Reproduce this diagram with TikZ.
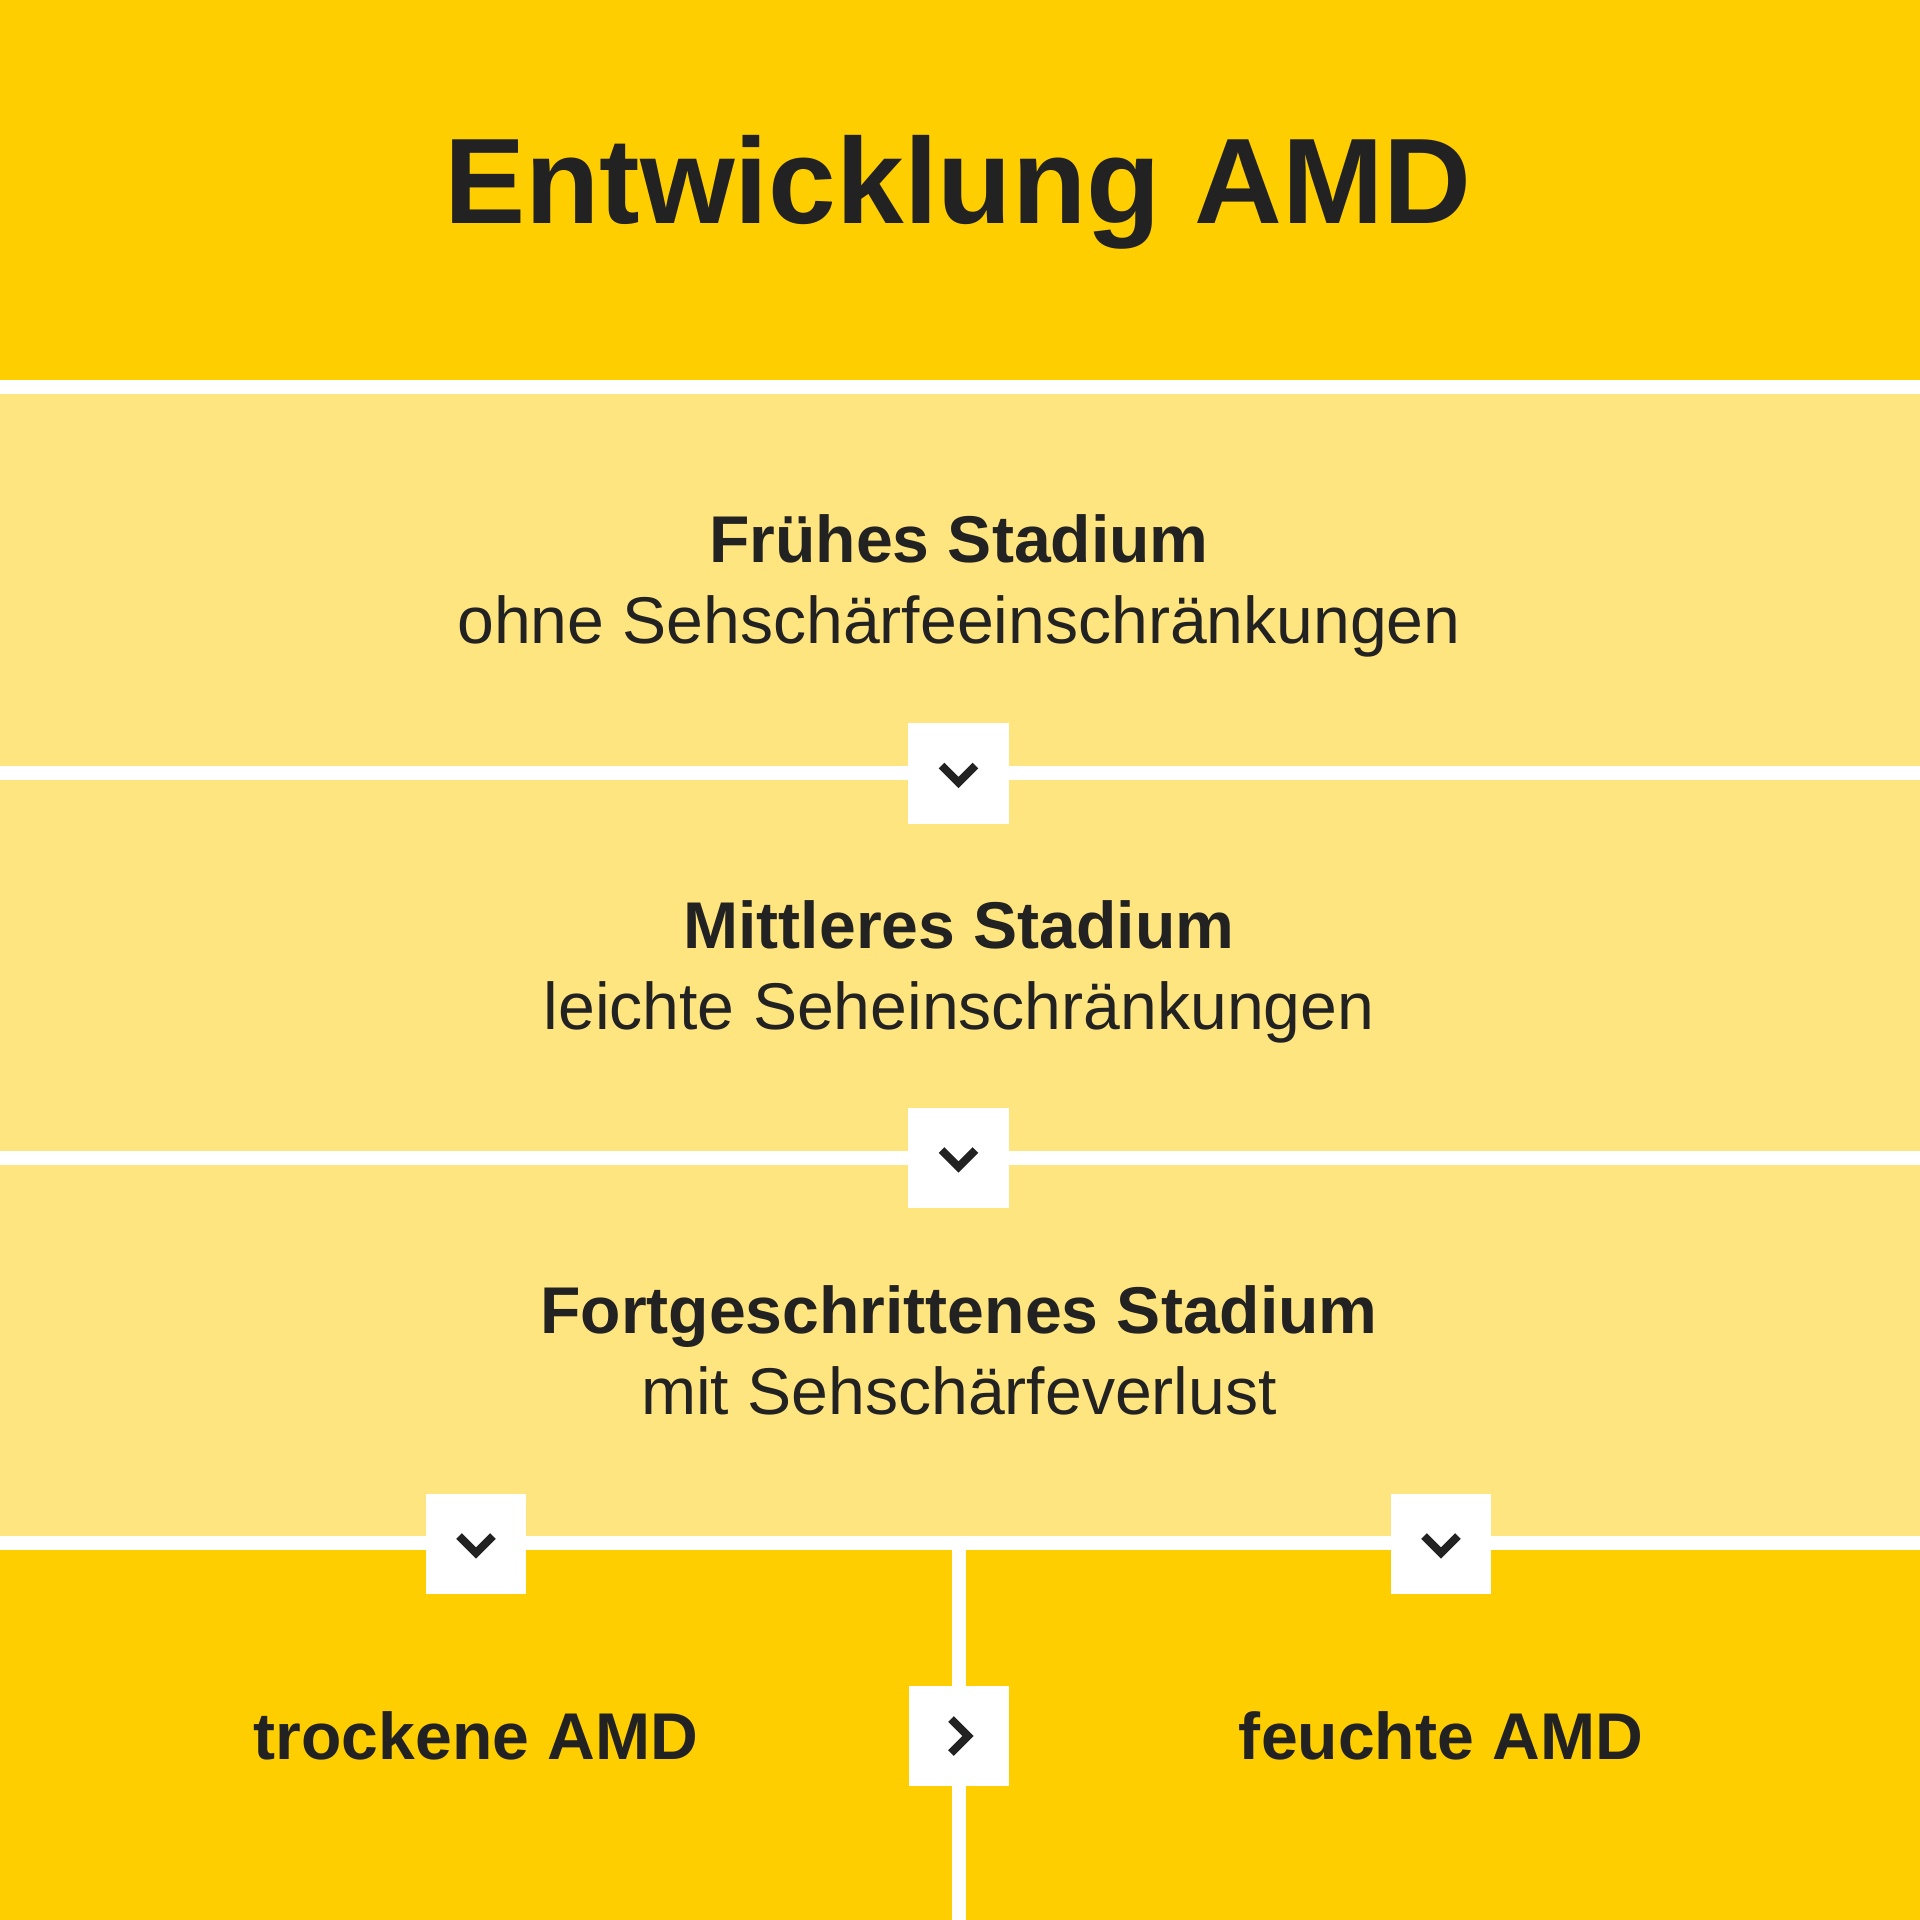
\documentclass[tikz,border=0pt]{standalone}
\usepackage{fontspec}
\setmainfont{Liberation Sans}

\definecolor{amdgelb}{HTML}{FFCE00}
\definecolor{amdhell}{HTML}{FFE57F}
\definecolor{amdtext}{HTML}{222222}

\tikzset{
    titel/.style={font=\fontsize{34.6}{40}\selectfont\bfseries, text=amdtext, anchor=base, inner sep=0},
    stufe/.style={font=\fontsize{18.8}{22}\selectfont\bfseries, text=amdtext, anchor=base, inner sep=0},
    unterzeile/.style={font=\fontsize{18.8}{22}\selectfont, text=amdtext, anchor=base, inner sep=0},
    kasten/.style={fill=white, minimum size=1cm, inner sep=0},
    pfeil/.style={draw=amdtext, line width=0.08cm, line join=miter}
}

\begin{document}
\begin{tikzpicture}[x=0.01cm, y=-0.01cm]

\def\breite{1920}
\def\mitte{959}

\useasboundingbox (0,0) rectangle (\breite,\breite);
\fill[white] (0,0) rectangle (\breite,\breite);

%bands
\fill[amdgelb] (0,0) rectangle (\breite,380);
\foreach \o/\u in {394/766, 780/1151, 1165/1536}{
    \fill[amdhell] (0,\o) rectangle (\breite,\u);
}
\fill[amdgelb] (0,1550) rectangle (952,\breite);
\fill[amdgelb] (966,1550) rectangle (\breite,\breite);

%labels
\node[titel] (titel) at (958,223) {Entwicklung AMD};

\node[stufe] (frueh) at (\mitte,562) {Frühes Stadium};
\node[unterzeile] (fruehtext) at (\mitte,643) {ohne Sehschärfeeinschränkungen};

\node[stufe] (mittel) at (\mitte,948) {Mittleres Stadium};
\node[unterzeile] (mitteltext) at (\mitte,1029) {leichte Seheinschränkungen};

\node[stufe] (spaet) at (\mitte,1333) {Fortgeschrittenes Stadium};
\node[unterzeile] (spaettext) at (\mitte,1414) {mit Sehschärfeverlust};

\node[stufe] (trocken) at (476,1759) {trockene AMD};
\node[stufe] (feucht) at (1441,1759) {feuchte AMD};

%boxes, chevron down
\foreach \n/\x/\y in {k1/958.5/773.5, k2/958.5/1158, k3/476/1544, k4/1441/1544}{
    \node[kasten] (\n) at (\x,\y) {};
    \draw[pfeil] ([shift={(-17,-8)}]\n.center) -- ++(17,17) -- ++(17,-17);
}

%box, chevron right
\node[kasten] (k5) at (959,1736) {};
\draw[pfeil] ([shift={(-8,-17)}]k5.center) -- ++(17,17) -- ++(-17,17);

\end{tikzpicture}
\end{document}
